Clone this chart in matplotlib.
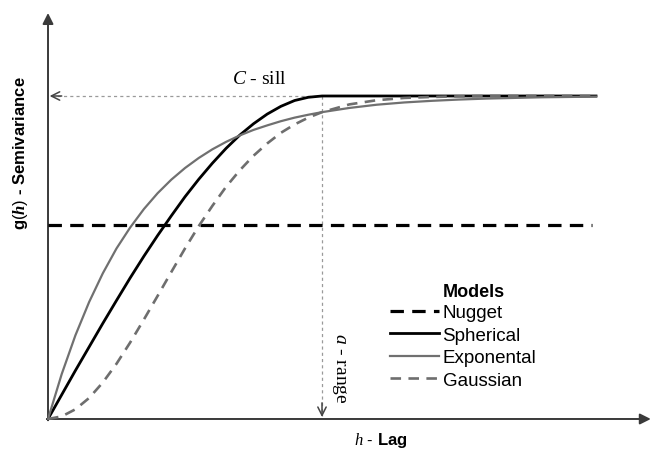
#!/usr/bin/env python3
"""
Variogram models sketch: nugget, spherical, exponential and gaussian
semivariance against lag, with sill and range marked.
"""
import matplotlib
matplotlib.use('Agg')
import matplotlib.pyplot as plt

# lag values (range a = 1) and semivariance (sill C = 1)
lag = [0.0, 0.05, 0.1, 0.15, 0.2, 0.25, 0.3, 0.35, 0.4, 0.45, 0.5,
       0.55, 0.6, 0.65, 0.7, 0.75, 0.8, 0.85, 0.9, 0.95, 1.0,
       1.1, 1.2, 1.3, 1.4, 1.5, 1.6, 1.7, 1.8, 1.9, 2.0]
spherical = [0.0, 0.075, 0.150, 0.223, 0.296, 0.367, 0.437, 0.504, 0.568, 0.629, 0.688,
             0.742, 0.792, 0.838, 0.879, 0.914, 0.944, 0.968, 0.986, 0.996, 1.0,
             1.0, 1.0, 1.0, 1.0, 1.0, 1.0, 1.0, 1.0, 1.0, 1.0]
exponential = [0.0, 0.139, 0.259, 0.362, 0.451, 0.528, 0.593, 0.650, 0.699, 0.741, 0.777,
               0.808, 0.835, 0.858, 0.878, 0.895, 0.909, 0.922, 0.933, 0.942, 0.950,
               0.963, 0.973, 0.980, 0.985, 0.989, 0.992, 0.994, 0.996, 0.997, 0.998]
gaussian = [0.0, 0.008, 0.030, 0.065, 0.113, 0.171, 0.237, 0.308, 0.381, 0.455, 0.528,
            0.597, 0.660, 0.719, 0.770, 0.815, 0.853, 0.886, 0.912, 0.933, 0.950,
            0.974, 0.987, 0.994, 0.997, 0.999, 1.0, 1.0, 1.0, 1.0, 1.0]
nugget_lag = [0.0, 1.985]
nugget = [0.6, 0.6]

sill = 1.0
rng = 1.0

model_labels = ['Nugget', 'Spherical', 'Exponental', 'Gaussian']

plt.rcParams['mathtext.fontset'] = 'custom'
plt.rcParams['mathtext.rm'] = 'Liberation Sans'
plt.rcParams['mathtext.it'] = 'Liberation Serif:italic'
plt.rcParams['mathtext.bf'] = 'Liberation Sans:bold'
plt.rcParams['mathtext.bfit'] = 'Liberation Serif:italic:bold'

fig = plt.figure(figsize=(6.53, 4.52), dpi=100)
ax = fig.add_axes([0, 0, 1, 1])
ax.set_xlim(-0.1752, 2.208)
ax.set_ylim(-0.0991, 1.3003)
ax.axis('off')

axis_col = '#3a3a3a'
guide_col = '#9a9a9a'

# axes with arrow heads
ax.annotate('', xy=(2.20, 0), xytext=(-0.004, 0),
            arrowprops=dict(arrowstyle='-|>', color=axis_col, lw=1.4,
                            mutation_scale=16, shrinkA=0, shrinkB=0))
ax.annotate('', xy=(0, 1.257), xytext=(0, -0.004),
            arrowprops=dict(arrowstyle='-|>', color=axis_col, lw=1.4,
                            mutation_scale=16, shrinkA=0, shrinkB=0))

# sill and range guides
ax.plot([0.01, rng], [sill, sill], color=guide_col, lw=0.9, linestyle=(0, (2.5, 2.5)), zorder=1)
ax.plot([rng, rng], [sill, 0.01], color=guide_col, lw=0.9, linestyle=(0, (2.5, 2.5)), zorder=1)
ax.annotate('', xy=(0.006, sill), xytext=(0.05, sill),
            arrowprops=dict(arrowstyle='->', color='#444444', lw=1.1,
                            mutation_scale=15, shrinkA=0, shrinkB=0))
ax.annotate('', xy=(rng, 0.006), xytext=(rng, 0.05),
            arrowprops=dict(arrowstyle='->', color='#444444', lw=1.1,
                            mutation_scale=15, shrinkA=0, shrinkB=0))

# models
ax.plot(nugget_lag, nugget, color='black', lw=2.3, linestyle=(0, (4.2, 2.6)),
        label=model_labels[0], zorder=3)
ax.plot(lag, spherical, color='black', lw=2.0, label=model_labels[1], zorder=4)
ax.plot(lag, exponential, color='#707070', lw=1.6, label=model_labels[2], zorder=5)
ax.plot(lag, gaussian, color='#6e6e6e', lw=1.9, linestyle=(0, (4.0, 2.8)),
        label=model_labels[3], zorder=6)

# annotations
ax.text(0.770, 1.053, r'$\mathit{C}$ - sill', family='Liberation Serif', fontsize=14,
        ha='center', va='center')
ax.text(1.062, 0.161, r'$\mathit{a}$ - range', family='Liberation Serif', fontsize=14,
        rotation=-90, ha='center', va='center')
ax.text(1.215, -0.062, r'$\mathit{h}$ - $\mathbf{Lag}$', family='Liberation Sans',
        fontsize=12, ha='center', va='center')
ax.text(-0.102, 0.827, r'$\mathbf{g}(\mathbfit{h})$ - Semivariance', family='Liberation Sans',
        fontweight='bold', fontsize=12, rotation=90, ha='center', va='center')

ax.text(1.442, 0.396, 'Models', family='Liberation Sans', fontweight='bold',
        fontsize=13, ha='left', va='center')
leg = ax.legend(loc='upper left', bbox_to_anchor=(390 / 653, 1 - 305 / 452),
                bbox_transform=fig.transFigure, frameon=False, borderpad=0,
                borderaxespad=0, handlelength=2.6, handletextpad=0.2,
                labelspacing=0.29, prop={'family': 'Liberation Sans', 'size': 13.5})

fig.savefig('out.png', dpi=100)
